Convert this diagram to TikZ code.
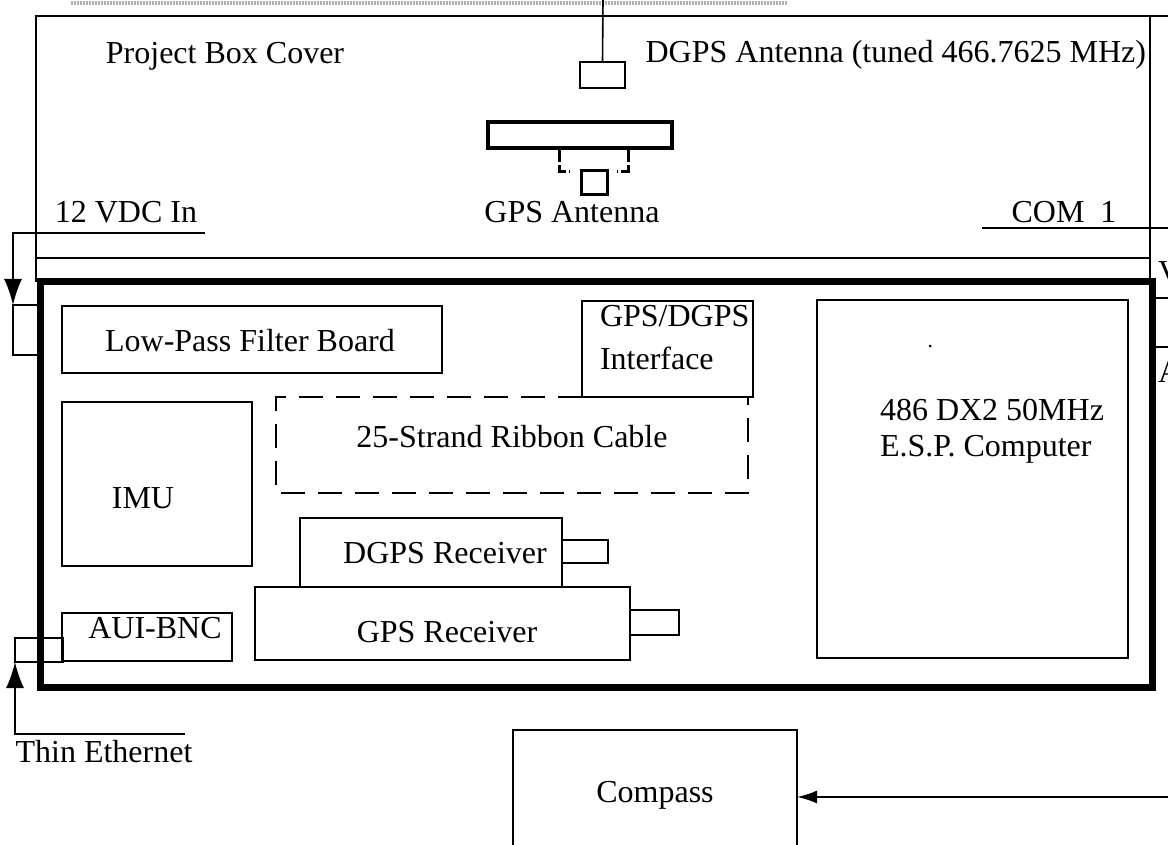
\documentclass[tikz,border=0pt]{standalone}
\usepackage{fontspec}
\setmainfont{Liberation Serif}
\usetikzlibrary{arrows.meta}
\begin{document}
\begin{tikzpicture}[x=1pt,y=-1pt,
  every node/.style={font=\fontsize{32}{38}\selectfont, inner sep=0pt, outer sep=0pt},
  ln/.style={line width=1.6pt},
  box/.style={draw, line width=1.6pt, rectangle, inner sep=0pt, anchor=north west},
  heavybox/.style={draw, line width=7pt, rectangle, inner sep=0pt, anchor=north west},
  txt/.style={anchor=center},
  ltxt/.style={anchor=west},
  arr/.style={line width=1.6pt, -{Latex[length=26pt,width=18pt]}},
  smallarr/.style={line width=1.8pt, -{Latex[length=20pt,width=13pt]}},
  ribbon/.style={line width=1.6pt, dash pattern=on 24pt off 13pt},
  antdash/.style={line width=3pt, dash pattern=on 14pt off 3pt}
]
\useasboundingbox (0,0) rectangle (1168,845);
\clip (0,0) rectangle (1168,845);

% dotted band at the top (cropped element)
\draw[gray!60, line width=4pt, dash pattern=on 1.5pt off 1.5pt] (71,3) -- (788,3);

% project box cover
\node[box, minimum width=1114, minimum height=242] (cover) at (36,16) {};
\draw[ln] (cover.north east) -- (1168,16);
\draw[ln] (cover.south west) -- ++(0,24);
\draw[ln] (cover.south east) -- ++(0,24);
\node[txt] (covertxt) at (225,56) {Project Box Cover};

% DGPS antenna
\node[box, minimum width=45, minimum height=26] (dgpsant) at (580,62) {};
\coordinate (dgpsfeed) at (603,0);
\draw[ln] (dgpsfeed) -- (dgpsant.north);
\node[anchor=east] (dgpsanttxt) at (1146,55) {DGPS Antenna (tuned 466.7625 MHz)};

% GPS antenna
\node[draw, line width=4pt, rectangle, anchor=north west, minimum width=184, minimum height=26] (gpsant) at (488,122) {};
\node[draw, line width=3pt, rectangle, anchor=north west, minimum width=26, minimum height=24] (gpsantbase) at (581,171) {};
\draw[antdash] (559,148) -- (559,172) -- (570,172);
\draw[antdash] (628,148) -- (628,172) -- (617,172);
\node[txt] (gpsanttxt) at (572,212) {GPS Antenna};

% labels on cover bottom
\node[txt] (vdctxt) at (126,212) {12 VDC In};
\node[txt] (comtxt) at (1064,212) {COM\ \ 1};
\coordinate (vdcend) at (205,233);
\coordinate (comend) at (982,228);
\draw[ln] (comend) -- (1168,228);

% enclosure
\node[heavybox, minimum width=1112, minimum height=405] (enc) at (40,282) {};

% power port and arrow
\node[box, minimum width=25, minimum height=50] (pwrport) at (13,305) {};
\draw[arr] (vdcend) -| (pwrport.north west);

% right-side port (cropped at the picture's edge)
\draw[ln] (1154,298) -- (1168,298);
\draw[ln] (1154,347) -- (1168,347);
\node[anchor=west] (vtxt) at (1158,272) {V};
\node[anchor=west] (atxt) at (1158,372) {A};

% interior boxes
\node[box, minimum width=380, minimum height=67] (lpf) at (62,306) {};
\node[txt] (lpftxt) at (250,341) {Low-Pass Filter Board};

\node[box, minimum width=171, minimum height=96] (iface) at (582,301) {};
\node[ltxt] (ifacetxt1) at (600,316) {GPS/DGPS};
\node[ltxt] (ifacetxt2) at (600,358) {Interface};

\node[box, minimum width=190, minimum height=164] (imu) at (62,402) {};
\node[txt] (imutxt) at (143,498) {IMU};

% ribbon cable (dashed)
\draw[ribbon] (582,397) -- (276,397) -- (276,493) -- (748,493) -- (748,397);
\node[txt] (ribbontxt) at (512,437) {25-Strand Ribbon Cable};

\node[box, minimum width=262, minimum height=69] (dgpsrx) at (300,518) {};
\node[box, minimum width=46, minimum height=23] (dgpsrxport) at (562,540) {};
\node[txt] (dgpsrxtxt) at (445,553) {DGPS Receiver};

\node[box, minimum width=375, minimum height=73] (gpsrx) at (255,587) {};
\node[box, minimum width=49, minimum height=25] (gpsrxport) at (630,610) {};
\node[txt] (gpsrxtxt) at (447,632) {GPS Receiver};

\node[box, minimum width=170, minimum height=48] (bnc) at (62,613) {};
\node[txt] (bnctxt) at (155,628) {AUI-BNC};
\node[box, minimum width=48, minimum height=24] (bncport) at (15,638) {};

\node[box, minimum width=311, minimum height=358] (cpu) at (817,300) {};
\node[ltxt] (cputxt1) at (880,410) {486 DX2 50MHz};
\node[ltxt] (cputxt2) at (880,449) {E.S.P. Computer};
\fill (930,346) circle (1.5);

% thin ethernet
\coordinate (ethend) at (185,734);
\draw[arr] (ethend) -| (bncport.south west);
\node[txt] (ethtxt) at (104,752) {Thin Ethernet};

% compass
\node[box, minimum width=284, minimum height=200] (compass) at (513,730) {};
\node[txt] (compasstxt) at (655,795) {Compass};
\coordinate (compin) at (1168,797);
\draw[smallarr] (compin) -- (compass.east |- compin);
\end{tikzpicture}
\end{document}
